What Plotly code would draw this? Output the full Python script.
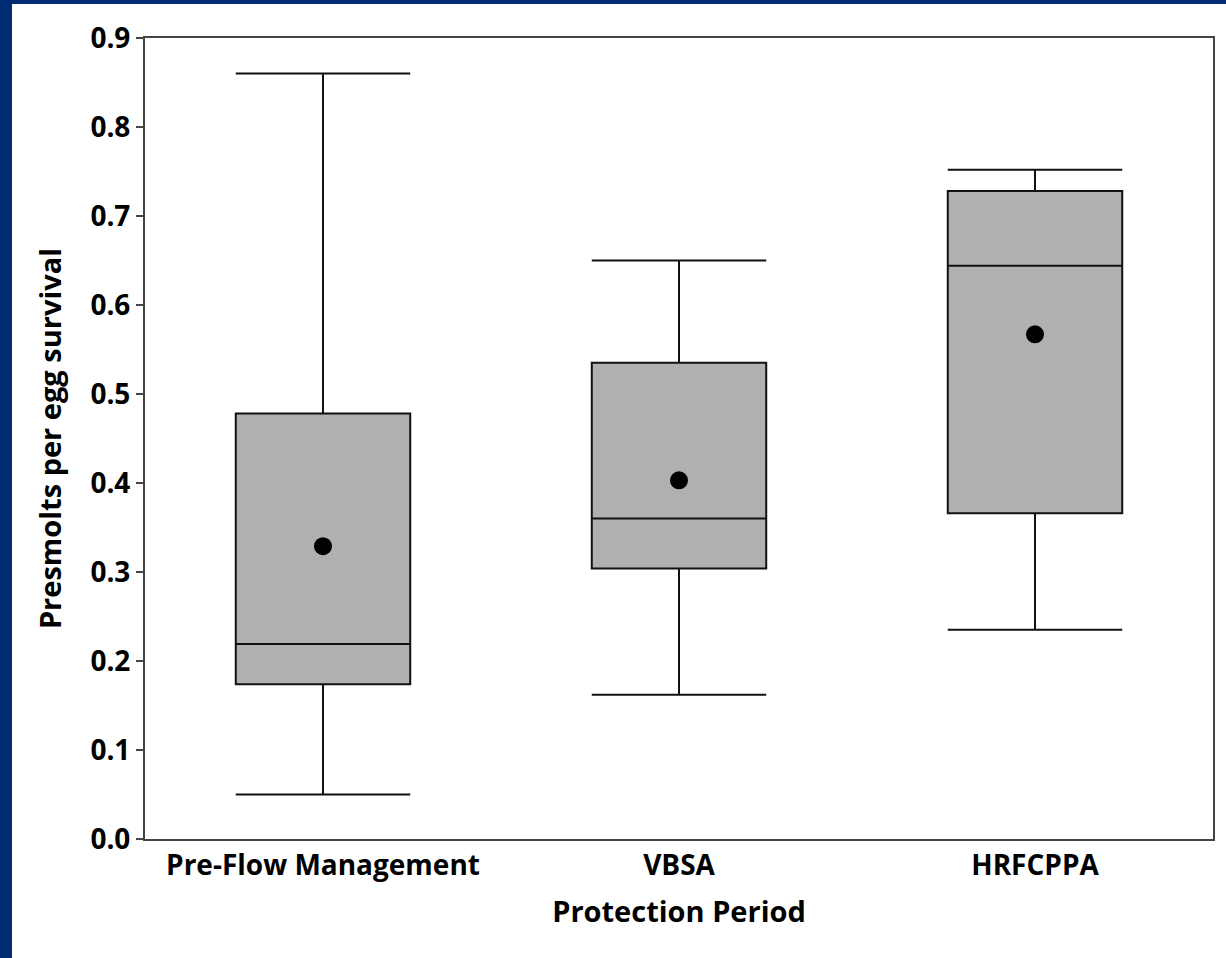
import plotly.graph_objects as go

categories = ["Pre-Flow Management", "VBSA", "HRFCPPA"]
lower_whisker = [0.050, 0.162, 0.235]
q1_vals = [0.174, 0.304, 0.366]
median_vals = [0.219, 0.360, 0.644]
q3_vals = [0.478, 0.535, 0.728]
upper_whisker = [0.860, 0.650, 0.752]
mean_vals = [0.329, 0.403, 0.567]
y_ticks = [0.0, 0.1, 0.2, 0.3, 0.4, 0.5, 0.6, 0.7, 0.8, 0.9]

FONT = "Open Sans"
W, H = 1226, 958
ml, mr, mt, mb = 145, 13, 38, 119
pw = W - ml - mr
ph = H - mt - mb

fig = go.Figure()
fig.add_trace(go.Box(
    x=categories,
    q1=q1_vals, median=median_vals, q3=q3_vals,
    lowerfence=lower_whisker, upperfence=upper_whisker,
    fillcolor="#B0B0B0",
    line=dict(color="#111111", width=2),
    whiskerwidth=1,
    width=0.49,
    boxpoints=False,
    hoverinfo="skip",
    showlegend=False,
))
fig.add_trace(go.Scatter(
    x=categories, y=mean_vals, mode="markers",
    marker=dict(color="black", size=18),
    showlegend=False, hoverinfo="skip",
))

# dark blue frame strips (top and left) of the slide
bx = lambda px: (px - ml) / pw
by = lambda py: (H - mb - py) / ph
blue = "#002B73"
fig.add_shape(type="rect", xref="paper", yref="paper",
              x0=bx(0), x1=bx(W), y0=by(4), y1=by(0),
              fillcolor=blue, line_width=0, layer="above")
fig.add_shape(type="rect", xref="paper", yref="paper",
              x0=bx(0), x1=bx(12), y0=by(H), y1=by(0),
              fillcolor=blue, line_width=0, layer="above")

fig.update_layout(
    width=W, height=H,
    margin=dict(l=ml, r=mr, t=mt, b=mb),
    paper_bgcolor="white", plot_bgcolor="white",
    font=dict(family=FONT, color="black"),
)
fig.update_xaxes(
    type="category", range=[-0.5, 2.5],
    showline=True, linecolor="#444444", linewidth=2, mirror=True,
    showgrid=False, ticks="",
    tickfont=dict(family=FONT, size=28, color="black", weight="bold"),
    title=dict(text="<b>Protection Period</b>", font=dict(family=FONT, size=29, color="black"), standoff=20),
)
fig.update_yaxes(
    range=[0, 0.9], tickvals=y_ticks, tickformat=".1f",
    showline=True, linecolor="#444444", linewidth=2, mirror=True,
    showgrid=False, zeroline=False,
    ticks="outside", ticklen=7, tickcolor="#444444", tickwidth=1.5,
    tickfont=dict(family=FONT, size=28, color="black", weight="bold"),
    title=dict(text="<b>Presmolts per egg survival</b>", font=dict(family=FONT, size=29, color="black"), standoff=20),
)

fig.write_html("out.html", config={"displayModeBar": False},
               post_script="document.body.style.margin='0';")
